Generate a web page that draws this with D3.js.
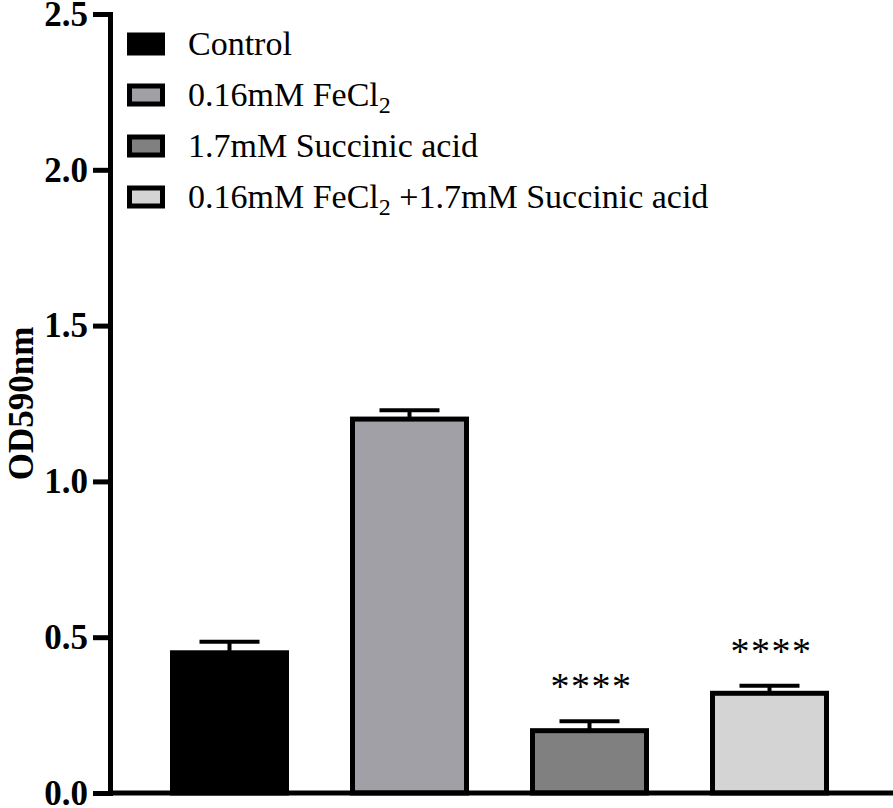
<!DOCTYPE html>
<html><head><meta charset="utf-8">
<script src="https://cdn.jsdelivr.net/npm/d3@7"></script>
<style>body{margin:0;background:#fff}svg{display:block}</style>
</head><body>
<script>
const categories = ["Control", "0.16mM FeCl2", "1.7mM Succinic acid", "0.16mM FeCl2 +1.7mM Succinic acid"];
const values = [0.45, 1.20, 0.20, 0.32];
const errors = [0.035, 0.028, 0.03, 0.024];
const fills = ["#000000", "#a1a0a6", "#808080", "#d4d4d4"];
const signif = ["", "", "****", "****"];
const yTicks = [0.0, 0.5, 1.0, 1.5, 2.0, 2.5];
// legend labels as [text, subscript, rest]
const legendParts = [["Control"], ["0.16mM FeCl", "2", ""], ["1.7mM Succinic acid"], ["0.16mM FeCl", "2", " +1.7mM Succinic acid"]];

const W = 893, H = 808;
const svg = d3.select("body").append("svg").attr("width", W).attr("height", H);
const y = d3.scaleLinear().domain([0, 2.5]).range([793, 14]);
const x = d3.scaleBand().domain(categories).range([139.5, 859.5]).paddingInner(0.3667).paddingOuter(0.18335);
const serif = "'Liberation Serif','Times New Roman',serif";

// bars
svg.selectAll("rect.bar").data(categories).join("rect").attr("class", "bar")
  .attr("x", d => x(d)).attr("width", x.bandwidth())
  .attr("y", (d, i) => y(values[i])).attr("height", (d, i) => y(0) - y(values[i]))
  .attr("fill", (d, i) => fills[i]).attr("stroke", "#000").attr("stroke-width", 5);

// error bars (upper)
const cw = 60;
svg.selectAll("line.stem").data(categories).join("line")
  .attr("x1", d => x(d) + x.bandwidth() / 2).attr("x2", d => x(d) + x.bandwidth() / 2)
  .attr("y1", (d, i) => y(values[i])).attr("y2", (d, i) => y(values[i] + errors[i]))
  .attr("stroke", "#000").attr("stroke-width", 4);
svg.selectAll("line.cap").data(categories).join("line")
  .attr("x1", d => x(d) + x.bandwidth() / 2 - cw / 2).attr("x2", d => x(d) + x.bandwidth() / 2 + cw / 2)
  .attr("y1", (d, i) => y(values[i] + errors[i])).attr("y2", (d, i) => y(values[i] + errors[i]))
  .attr("stroke", "#000").attr("stroke-width", 4);

// significance
svg.selectAll("text.sig").data(categories).join("text")
  .attr("x", d => x(d) + x.bandwidth() / 2 + 2)
  .attr("y", (d, i) => y(values[i] + errors[i]) - 22)
  .attr("text-anchor", "middle").attr("font-family", serif).attr("font-size", 38)
  .attr("letter-spacing", 1.5)
  .text((d, i) => signif[i]);

// y axis
const yAxis = d3.axisLeft(y).tickValues(yTicks).tickFormat(d3.format(".1f")).tickSize(17).tickSizeOuter(0).tickPadding(5);
const gy = svg.append("g").attr("transform", "translate(110,0)").call(yAxis);
gy.select(".domain").attr("stroke", "#000").attr("stroke-width", 5).attr("stroke-linecap", "square");
gy.selectAll(".tick line").attr("stroke", "#000").attr("stroke-width", 5);
gy.selectAll(".tick text").attr("font-family", serif).attr("font-weight", "bold").attr("font-size", 35).attr("fill", "#000");

// x axis line
const xAxis = d3.axisBottom(x).tickSize(0).tickFormat("");
const gx = svg.append("g").attr("transform", `translate(0,${y(0)})`).call(xAxis);
gx.select(".domain").attr("d", `M110,0H${W}`).attr("stroke", "#000").attr("stroke-width", 5);

// y label
svg.append("text").attr("transform", `translate(33,${(y(1.5) + y(1.0)) / 2}) rotate(-90)`)
  .attr("text-anchor", "middle").attr("font-family", serif).attr("font-weight", "bold").attr("font-size", 35)
  .text("OD590nm");

// legend
const lg = svg.append("g");
const rowY = i => 44 + i * 51;
lg.selectAll("rect").data(categories).join("rect")
  .attr("x", 129.5).attr("y", (d, i) => rowY(i) - 9).attr("width", 33).attr("height", 18)
  .attr("fill", (d, i) => fills[i]).attr("stroke", "#000").attr("stroke-width", 5);
lg.selectAll("text").data(legendParts).join("text")
  .attr("x", 188).attr("y", (d, i) => rowY(i) + 11)
  .attr("font-family", serif).attr("font-size", 34)
  .each(function(parts) {
    const t = d3.select(this);
    t.append("tspan").text(parts[0]);
    if (parts.length > 1) {
      t.append("tspan").attr("font-size", 24).attr("dy", 7).text(parts[1]);
      if (parts[2]) t.append("tspan").attr("dy", -7).text(parts[2]);
    }
  });
</script>
</body></html>
